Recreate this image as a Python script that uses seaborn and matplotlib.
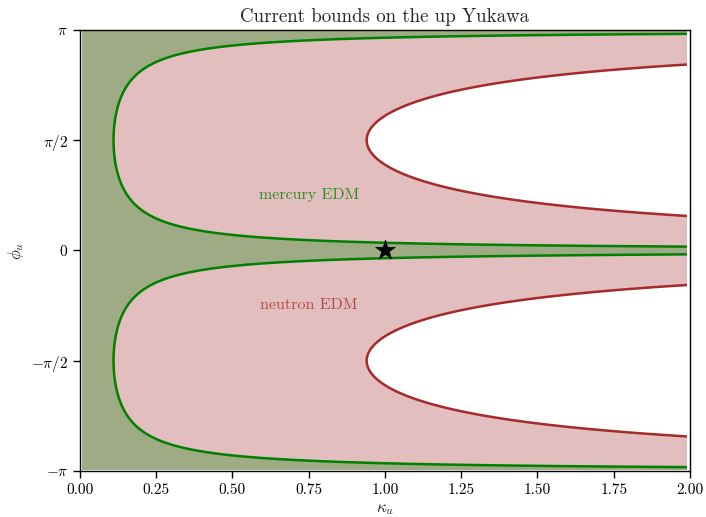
import numpy as np
import matplotlib
matplotlib.use("Agg")
import matplotlib.pyplot as plt
import seaborn as sns

# Bounds on kappa_u * |sin(phi_u)| from the two EDM measurements
mercury_bound = 0.11
neutron_bound = 0.94

# Standard Model point
sm_kappa = [1.0]
sm_phi = [0.0]

# Axis ticks
x_ticks = [0.00, 0.25, 0.50, 0.75, 1.00, 1.25, 1.50, 1.75, 2.00]
y_ticks = [-np.pi, -np.pi / 2, 0, np.pi / 2, np.pi]
y_tick_labels = [r"$-\pi$", r"$-\pi/2$", r"$0$", r"$\pi/2$", r"$\pi$"]

sns.set_theme(style="ticks")
plt.rcParams.update({
    "font.family": "serif",
    "font.serif": ["cmr10"],
    "mathtext.fontset": "cm",
    "axes.formatter.use_mathtext": True,
    "axes.unicode_minus": True,
    "axes.edgecolor": "black",
    "axes.linewidth": 1.0,
    "xtick.color": "black",
    "ytick.color": "black",
    "xtick.labelsize": 11,
    "ytick.labelsize": 11,
})

fig = plt.figure(figsize=(7.06, 5.17), dpi=100)
ax = fig.add_axes([0.1133, 0.0890, 0.8640, 0.8530])

kappa = np.linspace(0.007, 1.99, 900)
phi = np.linspace(-np.pi + 0.02, np.pi - 0.02, 900)
K, P = np.meshgrid(kappa, phi)
Z = K * np.abs(np.sin(P))

# Allowed regions
ax.contourf(K, P, Z, levels=[0, neutron_bound], colors="brown", alpha=0.3)
ax.contourf(K, P, Z, levels=[0, mercury_bound], colors="green", alpha=0.3)

# Boundaries
ax.contour(K, P, Z, levels=[neutron_bound], colors="brown", linewidths=1.8)
ax.contour(K, P, Z, levels=[mercury_bound], colors="green", linewidths=1.8)

sns.scatterplot(x=sm_kappa, y=sm_phi, marker="*", s=220, color="black",
                edgecolor="black", linewidth=0.5, zorder=5, ax=ax, legend=False)

ax.text(0.75, np.pi / 4, "mercury EDM", color="green", alpha=0.8,
        ha="center", va="center", fontsize=11.5)
ax.text(0.75, -np.pi / 4, "neutron EDM", color="brown", alpha=0.8,
        ha="center", va="center", fontsize=11.5)

ax.set_xlim(0, 2)
ax.set_ylim(-np.pi, np.pi)
ax.set_xticks(x_ticks)
ax.set_xticklabels([f"{t:.2f}" for t in x_ticks])
ax.set_yticks(y_ticks)
ax.set_yticklabels(y_tick_labels)
ax.tick_params(direction="out", length=5, width=1)

ax.set_xlabel(r"$\kappa_u$", fontsize=12, labelpad=4)
ax.set_ylabel(r"$\phi_u$", fontsize=12, labelpad=4)
ax.set_title("Current bounds on the up Yukawa", fontsize=13.6)

fig.savefig("out.png", dpi=100)
